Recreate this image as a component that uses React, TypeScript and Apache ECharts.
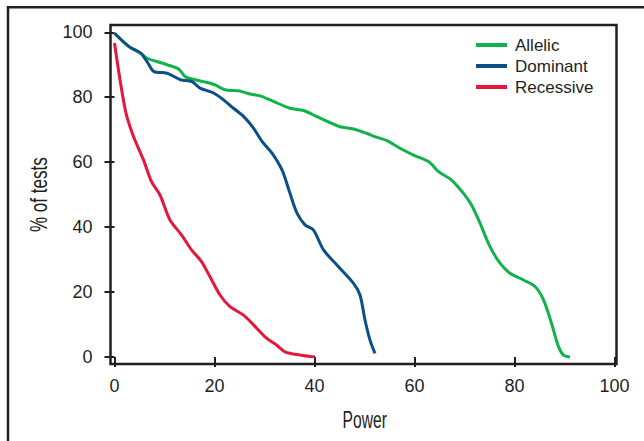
import React, { useEffect, useRef } from "react";
import * as echarts from "echarts";

const seriesNames = ["Allelic", "Dominant", "Recessive"];
const seriesColors = ["#12b24a", "#0b4f86", "#e5173d"];

const allelicPower = [0, 2.9, 5.2, 6.5, 8.5, 10.5, 12.8, 14.1, 15.5, 17.8, 20.1, 22.1, 24.8, 27.1, 29.1, 31.8, 35.1, 37.8, 40.4, 43.1, 45.1, 47.8, 50.4, 52.4, 54.4, 57.1, 59.8, 62.8, 64.8, 67.4, 69.8, 71.4, 73.1, 75.1, 77.1, 79.1, 81.8, 84.1, 85.8, 87.4, 88.8, 89.8, 91.1];
const allelicPct = [99.7, 95.6, 93.6, 92.0, 91.0, 90.0, 88.7, 86.4, 85.6, 84.8, 83.8, 82.3, 82.0, 81.0, 80.4, 78.7, 76.6, 75.9, 74.1, 72.2, 70.9, 70.2, 68.9, 67.7, 66.7, 64.3, 62.2, 60.2, 57.1, 54.5, 50.4, 46.8, 41.2, 34.0, 28.9, 25.8, 23.7, 21.7, 17.6, 10.4, 3.2, 0.6, 0];

const dominantPower = [0, 2.9, 5.2, 6.5, 7.9, 10.5, 13.2, 15.5, 17.1, 19.8, 21.8, 23.8, 25.8, 27.8, 29.5, 31.5, 33.5, 35.1, 36.5, 38.1, 39.8, 41.8, 44.8, 47.8, 49.1, 50.1, 51.1, 52.1];
const dominantPct = [99.7, 95.6, 93.6, 91.0, 87.9, 87.4, 85.4, 84.8, 82.8, 81.3, 79.2, 76.6, 74.1, 70.5, 66.4, 62.8, 57.6, 50.4, 44.3, 40.7, 39.1, 33.0, 27.8, 22.7, 19.1, 11.4, 5.2, 1.1];

const recessivePower = [0, 1.1, 2.3, 3.8, 5.8, 7.4, 9.1, 11.1, 13.4, 15.4, 17.4, 19.1, 21.1, 23.1, 25.8, 27.8, 30.4, 32.4, 34.1, 37.1, 40.1];
const recessivePct = [96.7, 85.4, 75.1, 67.9, 60.7, 54.0, 49.9, 42.2, 37.6, 33.0, 29.4, 24.7, 19.1, 15.5, 12.9, 9.9, 5.8, 3.7, 1.6, 0.6, 0];

const tickValues = [0, 20, 40, 60, 80, 100];
const xTitle = "Power";
const yTitle = "% of tests";

const zip = (xs: number[], ys: number[]) => xs.map((x, i) => [x, ys[i]]);

export default function App() {
  const ref = useRef<HTMLDivElement>(null);
  useEffect(() => {
    if (!ref.current) return;
    const chart = echarts.init(ref.current, undefined, { renderer: "svg" });
    const dataSets = [
      zip(allelicPower, allelicPct),
      zip(dominantPower, dominantPct),
      zip(recessivePower, recessivePct),
    ];
    const ink = "#231f20";
    const tickFont = { fontFamily: "Liberation Sans, Arial, sans-serif", fontSize: 18, color: ink };
    const titleStyle = {
      fill: ink,
      fontFamily: "Liberation Sans, Arial, sans-serif",
      fontSize: 23,
      align: "center",
      verticalAlign: "middle",
    };
    chart.setOption({
      animation: false,
      backgroundColor: "#ffffff",
      grid: { left: 114.5, right: 29.5, top: 32.3, bottom: 84 },
      xAxis: {
        type: "value",
        min: tickValues[0],
        max: tickValues[tickValues.length - 1],
        interval: 20,
        offset: 7,
        axisLine: { show: false },
        axisTick: { show: true, length: 10, lineStyle: { color: ink, width: 2 } },
        axisLabel: { ...tickFont, margin: 13 },
        splitLine: { show: false },
      },
      yAxis: {
        type: "value",
        min: tickValues[0],
        max: tickValues[tickValues.length - 1],
        interval: 20,
        offset: 4,
        axisLine: { show: false },
        axisTick: { show: true, length: 10, lineStyle: { color: ink, width: 2 } },
        axisLabel: { ...tickFont, margin: 18 },
        splitLine: { show: false },
      },
      legend: {
        orient: "vertical",
        left: 476,
        top: 36.5,
        padding: 0,
        icon: "rect",
        itemWidth: 31,
        itemHeight: 4,
        itemGap: 4,
        textStyle: { fontFamily: "Liberation Sans, Arial, sans-serif", fontSize: 17, color: ink, padding: [0, 0, 0, 3] },
        data: seriesNames,
      },
      graphic: [
        { type: "rect", shape: { x: 8, y: 7.3, width: 700, height: 500 }, style: { fill: "none", stroke: ink, lineWidth: 2.5 }, silent: true, z: -1 },
        { type: "rect", shape: { x: 110.5, y: 25, width: 506, height: 339 }, style: { fill: "none", stroke: ink, lineWidth: 2.5 }, silent: true },
        { type: "text", x: 364.7, y: 420, scaleX: 0.68, style: { ...titleStyle, text: xTitle }, silent: true },
        { type: "text", x: 39, y: 194.7, rotation: Math.PI / 2, scaleX: 0.74, style: { ...titleStyle, text: yTitle }, silent: true },
      ],
      series: seriesNames.map((name, i) => ({
        name,
        type: "line",
        data: dataSets[i],
        showSymbol: false,
        symbol: "none",
        smooth: 0.3,
        lineStyle: { color: seriesColors[i], width: 3 },
        itemStyle: { color: seriesColors[i] },
      })),
    });
    return () => chart.dispose();
  }, []);
  return <div ref={ref} style={{ width: 644, height: 441, position: "absolute", left: 0, top: 0 }} />;
}
